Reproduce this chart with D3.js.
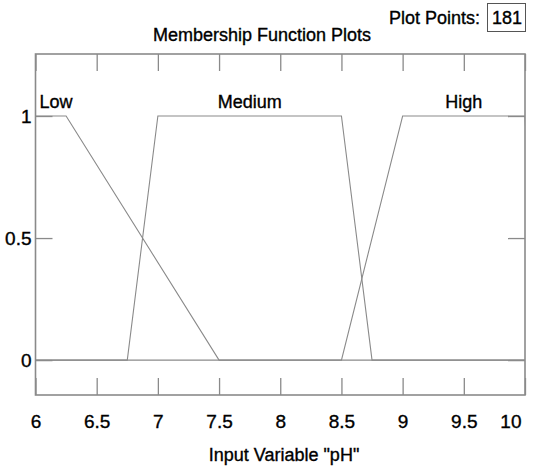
<!DOCTYPE html>
<html>
<head>
<meta charset="utf-8">
<script src="https://cdnjs.cloudflare.com/ajax/libs/d3/7.8.5/d3.min.js"></script>
<style>
  body { margin: 0; background: #fff; }
  text { font-family: "Liberation Sans", Arial, sans-serif; fill: #000; stroke: #000; stroke-width: 0.35px; }
</style>
</head>
<body>
<div id="chart"></div>
<script>
// membership functions (trapezoids: a, b, c, d)
var mfNames = ['Low', 'Medium', 'High']
var mfParams = [
  [5.9, 6, 6.25, 7.5],
  [6.75, 7, 8.5, 8.75],
  [8.5, 9, 10, 10.1]
]
var xTicks = [6, 6.5, 7, 7.5, 8, 8.5, 9, 9.5, 10]
var yTicks = [0, 0.5, 1]
var plotPoints = 181

var width = 534, height = 469
var margin = {top: 54, right: 9, bottom: 74, left: 35}
var yMin = -0.143, yMax = 1.254

var svg = d3.select('#chart').append('svg')
  .attr('width', width)
  .attr('height', height)

var x = d3.scaleLinear().domain([6, 10]).range([margin.left + 0.5, width - margin.right])
var y = d3.scaleLinear().domain([yMin, yMax]).range([height - margin.bottom, margin.top])

var gray = '#8a8a8a'

// clip for the MF lines
svg.append('clipPath').attr('id', 'clip')
  .append('rect')
  .attr('x', x(6)).attr('y', y(yMax))
  .attr('width', x(10) - x(6)).attr('height', y(yMin) - y(yMax))

// axes (ticks inside the box)
var tickLen = 17
var xBottom = svg.append('g')
  .attr('transform', 'translate(0,' + y(yMin) + ')')
  .call(d3.axisBottom(x).tickValues(xTicks).tickSize(-tickLen).tickPadding(20).tickFormat(d3.format('')))
var xTop = svg.append('g')
  .attr('transform', 'translate(0,' + y(yMax) + ')')
  .call(d3.axisTop(x).tickValues(xTicks).tickSize(-tickLen).tickFormat(''))
var yLeft = svg.append('g')
  .attr('transform', 'translate(' + x(6) + ',0)')
  .call(d3.axisLeft(y).tickValues(yTicks).tickSize(-tickLen).tickPadding(4).tickFormat(d3.format('')))
var yRight = svg.append('g')
  .attr('transform', 'translate(' + x(10) + ',0)')
  .call(d3.axisRight(y).tickValues(yTicks).tickSize(-tickLen).tickFormat(''))

;[xBottom, xTop, yLeft, yRight].forEach(function(g) {
  g.select('.domain').remove()
  g.selectAll('.tick line').attr('stroke', gray).attr('stroke-width', 1.3)
  g.selectAll('.tick text').style('font-size', '19px').attr('fill', '#000')
})
// keep the last x label inside the window
xBottom.selectAll('.tick text')
  .filter(function(d) { return d === 10 })
  .attr('text-anchor', 'end')
  .attr('x', -4)

// frame
svg.append('rect')
  .attr('x', x(6)).attr('y', y(yMax))
  .attr('width', x(10) - x(6)).attr('height', y(yMin) - y(yMax))
  .attr('fill', 'none')
  .attr('stroke', gray)
  .attr('stroke-width', 1.6)

// MF lines
var line = d3.line()
  .x(function(d) { return x(d[0]) })
  .y(function(d) { return y(d[1]) })

var mfs = svg.append('g').attr('clip-path', 'url(#clip)')
mfParams.forEach(function(p) {
  var pts = [[6, 0], [p[0], 0], [p[1], 1], [p[2], 1], [p[3], 0], [10, 0]]
  mfs.append('path')
    .attr('d', line(pts))
    .attr('fill', 'none')
    .attr('stroke', gray)
    .attr('stroke-width', 1.1)
})

// MF labels
mfNames.forEach(function(name, i) {
  var p = mfParams[i]
  var cx = x((Math.max(p[1], 6) + Math.min(p[2], 10)) / 2)
  var t = svg.append('text')
    .attr('y', y(1) - 8)
    .style('font-size', '18px')
    .text(name)
  if (i === 0) t.attr('x', x(6) + 4)
  else t.attr('x', cx).attr('text-anchor', 'middle')
})

// title
svg.append('text')
  .attr('x', 262).attr('y', 41)
  .attr('text-anchor', 'middle')
  .style('font-size', '18px')
  .text('Membership Function Plots')

// plot points
svg.append('text')
  .attr('x', 480).attr('y', 24)
  .attr('text-anchor', 'end')
  .style('font-size', '18px')
  .text('Plot Points:')
svg.append('rect')
  .attr('x', 487.5).attr('y', 3.5)
  .attr('width', 38).attr('height', 28)
  .attr('fill', '#fff')
  .attr('stroke', '#555')
  .attr('stroke-width', 1)
svg.append('text')
  .attr('x', 522).attr('y', 24)
  .attr('text-anchor', 'end')
  .style('font-size', '18px')
  .text(plotPoints)

// x label
svg.append('text')
  .attr('x', 284).attr('y', 461)
  .attr('text-anchor', 'middle')
  .style('font-size', '18px')
  .text('Input Variable "pH"')
</script>
</body>
</html>
